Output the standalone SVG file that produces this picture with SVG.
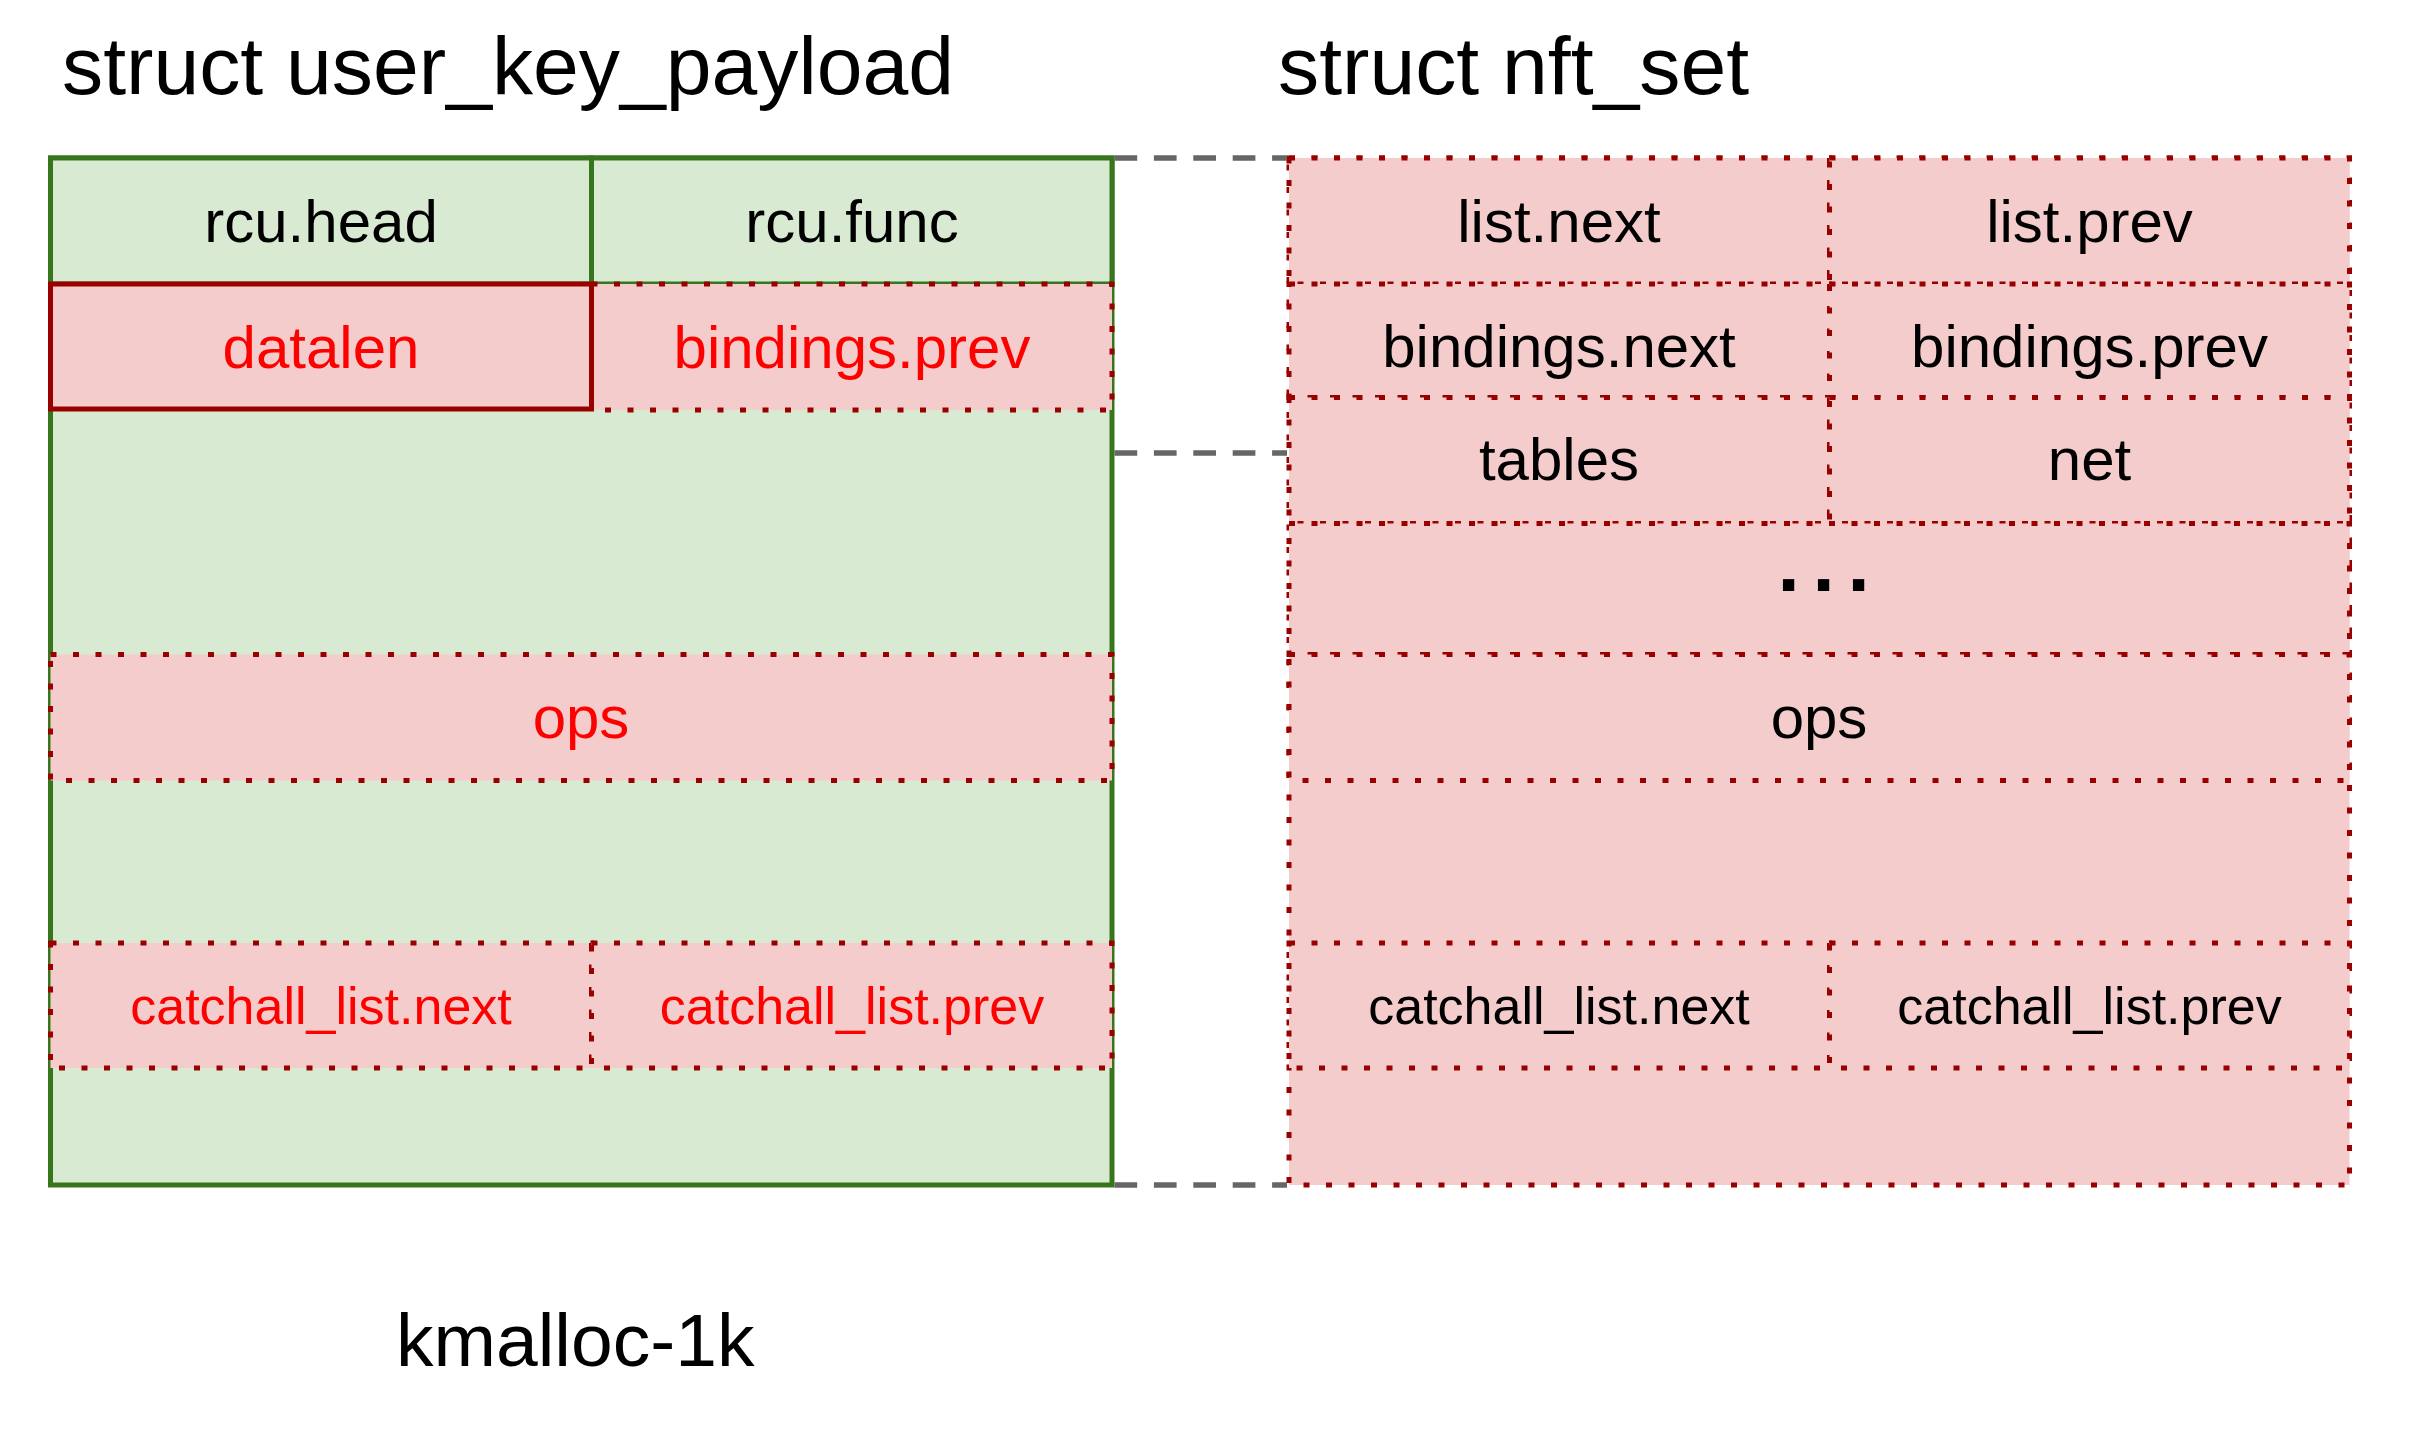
<svg xmlns="http://www.w3.org/2000/svg" width="2409" height="1433" viewBox="0 0 2409 1433">
<style>
text{font-family:"Liberation Sans",Arial,sans-serif}
.title{font-size:82.3px;fill:#000}
.lbl{font-size:60px;text-anchor:middle;fill:#000}
.sm{font-size:52px;text-anchor:middle}
.red{fill:#ff0000}
.blk{fill:#000}
.green{fill:#d9ead3;stroke:#38761d;stroke-width:5}
.pinkdot{fill:#f4cccc;stroke:#990000;stroke-width:5;stroke-dasharray:6 16.5}
.pinksolid{fill:#f4cccc;stroke:#990000;stroke-width:5}
.conn{stroke:#666666;stroke-width:5.5;stroke-dasharray:22.7 16.7;fill:none}
</style>
<rect width="2409" height="1433" fill="#ffffff"/>
<text class="title" x="62" y="94">struct user_key_payload</text>
<text class="title" x="1278" y="94">struct nft_set</text>
<text x="396" y="1366" style="font-size:75px">kmalloc-1k</text>

<g id="user_key_payload">
  <rect class="green" x="50.5" y="158" width="1061.5" height="1027"/>
  <g id="ukp_rcu_head"><rect class="green" x="50.5" y="158" width="541" height="126"/><text class="lbl" x="321" y="242">rcu.head</text></g>
  <g id="ukp_rcu_func"><rect class="green" x="591.5" y="158" width="520.5" height="126"/><text class="lbl" x="852" y="242">rcu.func</text></g>
  <g id="ukp_bindings_prev"><rect class="pinkdot" x="591.5" y="284" width="520.5" height="126"/><text class="lbl red" x="852" y="368">bindings.prev</text></g>
  <g id="ukp_datalen"><rect class="pinksolid" x="50.5" y="284" width="541" height="125"/><text class="lbl red" x="321" y="368">datalen</text></g>
  <g id="ukp_ops"><rect class="pinkdot" x="50.5" y="654.5" width="1061.5" height="126"/><text class="lbl red" x="581" y="738">ops</text></g>
  <g id="ukp_catchall_next"><rect class="pinkdot" x="50.5" y="943" width="541" height="125"/><text class="sm red" x="321" y="1024">catchall_list.next</text></g>
  <g id="ukp_catchall_prev"><rect class="pinkdot" x="591.5" y="943" width="520.5" height="125"/><text class="sm red" x="852" y="1024">catchall_list.prev</text></g>
</g>

<g id="nft_set">
  <rect class="pinkdot" x="1289" y="158" width="1060.5" height="1027"/>
  <g id="ns_list_next"><rect class="pinkdot" x="1289" y="158" width="540.5" height="126"/><text class="lbl" x="1559" y="242">list.next</text></g>
  <g id="ns_list_prev"><rect class="pinkdot" x="1829.5" y="158" width="520" height="126"/><text class="lbl" x="2089.5" y="242">list.prev</text></g>
  <g id="ns_bindings_next"><rect class="pinkdot" x="1289" y="284" width="540.5" height="113.5"/><text class="lbl" x="1559" y="367">bindings.next</text></g>
  <g id="ns_bindings_prev"><rect class="pinkdot" x="1829.5" y="284" width="520" height="113.5"/><text class="lbl" x="2089.5" y="367">bindings.prev</text></g>
  <g id="ns_tables"><rect class="pinkdot" x="1289" y="397.5" width="540.5" height="126"/><text class="lbl" x="1559" y="480">tables</text></g>
  <g id="ns_net"><rect class="pinkdot" x="1829.5" y="397.5" width="520" height="126"/><text class="lbl" x="2089.5" y="480">net</text></g>
  <g id="ns_ellipsis"><rect class="pinkdot" x="1289" y="523.5" width="1060.5" height="131"/><text x="1777.5" y="591" style="font-size:80px;font-weight:bold;letter-spacing:12.8px">...</text></g>
  <g id="ns_ops"><rect class="pinkdot" x="1289" y="654.5" width="1060.5" height="126"/><text class="lbl" x="1819" y="738">ops</text></g>
  <g id="ns_catchall_next"><rect class="pinkdot" x="1289" y="943" width="540.5" height="125"/><text class="sm blk" x="1559" y="1024">catchall_list.next</text></g>
  <g id="ns_catchall_prev"><rect class="pinkdot" x="1829.5" y="943" width="520" height="125"/><text class="sm blk" x="2089.5" y="1024">catchall_list.prev</text></g>
</g>

<g id="connectors">
  <line class="conn" x1="1114.5" y1="158" x2="1287" y2="158"/>
  <line class="conn" x1="1114.5" y1="453" x2="1287" y2="453"/>
  <line class="conn" x1="1114.5" y1="1185" x2="1287" y2="1185"/>
</g>
</svg>
